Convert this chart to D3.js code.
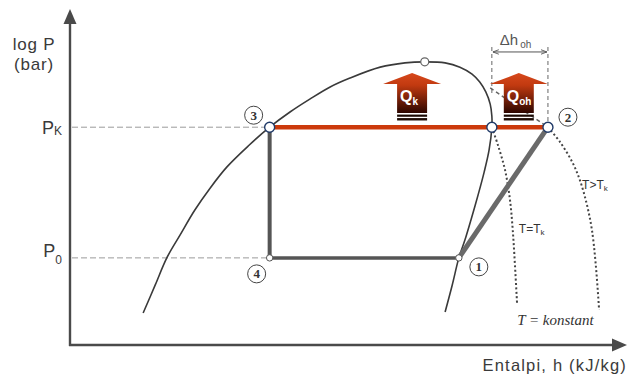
<!DOCTYPE html>
<html>
<head>
<meta charset="utf-8">
<script src="https://cdn.jsdelivr.net/npm/d3@7"></script>
<style>
  body { margin: 0; background: #fff; }
  svg { display: block; }
</style>
</head>
<body>
<script>
// log P – h diagram of a refrigeration cycle (abstract units: enthalpy 0–100, log P 0–100)

// Saturation dome, liquid side → critical point → vapour side  [h, logP]
const saturationDome = [
  [13.3, 9.7], [15.5, 18.2], [17.6, 26.4], [20.0, 33.3], [22.7, 40.9], [25.5, 47.6],
  [28.5, 53.9], [32.4, 60.3], [36.3, 66.0], [40.0, 70.6], [43.6, 74.5], [47.3, 78.2],
  [50.9, 80.9], [56.4, 84.2], [60.9, 85.5], [64.5, 85.8], [68.2, 85.5], [70.9, 84.2],
  [73.1, 82.1], [74.5, 79.7], [75.6, 76.7], [76.4, 73.0], [76.7, 69.4], [76.7, 66.0],
  [76.2, 59.1], [75.3, 52.4], [74.2, 45.5], [72.9, 37.9], [71.8, 31.8], [70.7, 26.4],
  [69.5, 18.2], [68.2, 10.0]
];

// Pressure levels
const pressureTicks = [
  { name: "P", sub: "K", p: 66.0 },
  { name: "P", sub: "0", p: 26.4 }
];

// Cycle state points
const cycleStates = [
  { id: "1", h: 70.7, p: 26.4 },
  { id: "2", h: 86.9, p: 66.0 },
  { id: "3", h: 36.3, p: 66.0 },
  { id: "4", h: 36.3, p: 26.4 }
];
const saturatedVapourK = { h: 76.7, p: 66.0 };
const criticalPoint = { h: 64.5, p: 85.8 };

// Isotherms
const isothermTk = [
  [76.7, 66.0], [77.8, 60.6], [79.1, 53.0], [80.0, 43.9], [80.5, 34.8], [80.9, 24.2], [81.3, 12.1]
];
const isothermAboveTkUpper = [[76.4, 77.9], [86.9, 66.0]];
const isothermAboveTk = [
  [86.9, 66.0], [89.1, 61.5], [91.3, 55.5], [92.7, 50.0], [94.0, 42.4], [94.9, 34.8], [95.6, 24.2], [96.2, 10.6]
];

// Heat flows
const heatArrows = [
  { q: "Q", sub: "k", h: 62.2, tip: 82.4 },
  { q: "Q", sub: "oh", h: 81.6, tip: 82.4 }
];

// Superheat span Δh_oh
const superheatSpan = { from: 76.7, to: 86.9, top: 90.3, level: 88.8, leftEnd: 76.0 };

const W = 627, H = 376;
const x = d3.scaleLinear().domain([0, 100]).range([70, 620]);
const y = d3.scaleLinear().domain([0, 100]).range([345, 15]);
const line = d3.line().x(d => x(d[0])).y(d => y(d[1]));
const smooth = d3.line().x(d => x(d[0])).y(d => y(d[1])).curve(d3.curveCatmullRom.alpha(0.5));

const svg = d3.select("body").append("svg")
  .attr("width", W).attr("height", H)
  .style("font-family", "'Liberation Sans', Arial, sans-serif");

const defs = svg.append("defs");
const grad = defs.append("linearGradient").attr("id", "heatGrad")
  .attr("x1", 0).attr("y1", 0).attr("x2", 0).attr("y2", 1);
grad.append("stop").attr("offset", "0%").attr("stop-color", "#d7481c");
grad.append("stop").attr("offset", "30%").attr("stop-color", "#c23a10");
grad.append("stop").attr("offset", "100%").attr("stop-color", "#2c0600");

defs.append("marker").attr("id", "dimArrow").attr("viewBox", "0 0 8 8")
  .attr("refX", 8).attr("refY", 4).attr("markerWidth", 6).attr("markerHeight", 6)
  .attr("orient", "auto-start-reverse")
  .append("path").attr("d", "M0,1 L8,4 L0,7").attr("fill", "none").attr("stroke", "#555").attr("stroke-width", 1.2);

const ink = "#3a3a3a";

// Axes with arrowheads
const x0 = x(0), yBase = y(0);
svg.append("line").attr("x1", x0).attr("y1", yBase + 1).attr("x2", x0).attr("y2", 22)
  .attr("stroke", "#4a4a4a").attr("stroke-width", 2.4);
svg.append("path").attr("d", `M${x0},9 L${x0 - 6.5},24 L${x0 + 6.5},24 Z`).attr("fill", "#4a4a4a");
svg.append("line").attr("x1", x0 - 1).attr("y1", yBase).attr("x2", 615).attr("y2", yBase)
  .attr("stroke", "#4a4a4a").attr("stroke-width", 2.4);
svg.append("path").attr("d", `M627,${yBase} L612,${yBase - 6.5} L612,${yBase + 6.5} Z`).attr("fill", "#4a4a4a");

// Axis titles
svg.append("text").attr("x", 34).attr("y", 50).attr("text-anchor", "middle")
  .attr("font-size", 17).attr("letter-spacing", 0.8).attr("fill", ink).text("log P");
svg.append("text").attr("x", 34).attr("y", 70).attr("text-anchor", "middle")
  .attr("font-size", 17).attr("letter-spacing", 0.8).attr("fill", ink).text("(bar)");
svg.append("text").attr("x", 627).attr("y", 371).attr("text-anchor", "end")
  .attr("font-size", 16.5).attr("letter-spacing", 1.2).attr("fill", ink).text("Entalpi, h (kJ/kg)");

// Pressure tick labels
const subDrop = { K: 1, "0": 7 };
const gy = svg.append("g").attr("transform", `translate(${x0},0)`)
  .call(d3.axisLeft(y).tickValues(pressureTicks.map(d => d.p)).tickSize(0).tickPadding(8).tickFormat(() => ""));
gy.select(".domain").remove();
gy.selectAll(".tick text").each(function (v) {
  const t = pressureTicks.find(d => d.p === v);
  const el = d3.select(this).attr("dy", null).attr("fill", ink)
    .attr("font-family", "'Liberation Sans', Arial, sans-serif")
    .attr("y", t.sub === "0" ? -1 : 6);
  el.append("tspan").attr("font-size", 18).text(t.name);
  el.append("tspan").attr("font-size", 12).attr("dy", subDrop[t.sub]).text(t.sub);
});

// Dashed pressure guides
pressureTicks.forEach(t => {
  const st = cycleStates.filter(s => s.p === t.p).reduce((a, b) => (a.h < b.h ? a : b));
  svg.append("line").attr("x1", x0 + 2).attr("x2", x(st.h)).attr("y1", y(t.p)).attr("y2", y(t.p))
    .attr("stroke", "#9a9a9a").attr("stroke-width", 1).attr("stroke-dasharray", "6,3");
});

// Saturation dome
svg.append("path").attr("d", smooth(saturationDome)).attr("fill", "none")
  .attr("stroke", "#3a3a3a").attr("stroke-width", 1.6);

// Isotherms
svg.append("path").attr("d", smooth(isothermTk)).attr("fill", "none")
  .attr("stroke", "#444").attr("stroke-width", 2).attr("stroke-dasharray", "2,2.4");
svg.append("path").attr("d", smooth(isothermAboveTk)).attr("fill", "none")
  .attr("stroke", "#444").attr("stroke-width", 2).attr("stroke-dasharray", "2,2.4");
svg.append("path").attr("d", line(isothermAboveTkUpper)).attr("fill", "none")
  .attr("stroke", "#666").attr("stroke-width", 1.5).attr("stroke-dasharray", "4,3");

// Superheat dimension
svg.append("line").attr("x1", x(superheatSpan.from)).attr("x2", x(superheatSpan.from))
  .attr("y1", y(superheatSpan.top)).attr("y2", y(superheatSpan.leftEnd))
  .attr("stroke", "#666").attr("stroke-width", 1).attr("stroke-dasharray", "4,3");
svg.append("line").attr("x1", x(superheatSpan.to)).attr("x2", x(superheatSpan.to))
  .attr("y1", y(superheatSpan.top)).attr("y2", y(cycleStates[1].p))
  .attr("stroke", "#666").attr("stroke-width", 1).attr("stroke-dasharray", "4,3");
svg.append("line").attr("x1", x(superheatSpan.from) + 1).attr("x2", x(superheatSpan.to) - 1)
  .attr("y1", y(superheatSpan.level)).attr("y2", y(superheatSpan.level))
  .attr("stroke", "#555").attr("stroke-width", 1)
  .attr("marker-start", "url(#dimArrow)").attr("marker-end", "url(#dimArrow)");
const dh = svg.append("text").attr("x", x(superheatSpan.from) + 8).attr("y", 45)
  .attr("font-size", 15).attr("fill", "#555");
dh.append("tspan").text("Δh");
dh.append("tspan").attr("font-size", 10).attr("dy", 3).attr("dx", 2).text("oh");

// Cycle
const s = Object.fromEntries(cycleStates.map(d => [d.id, d]));
svg.append("line").attr("x1", x(s["3"].h)).attr("y1", y(s["3"].p)).attr("x2", x(s["4"].h)).attr("y2", y(s["4"].p))
  .attr("stroke", "#555").attr("stroke-width", 4);
svg.append("line").attr("x1", x(s["4"].h)).attr("y1", y(s["4"].p)).attr("x2", x(s["1"].h)).attr("y2", y(s["1"].p))
  .attr("stroke", "#555").attr("stroke-width", 3.5);
svg.append("line").attr("x1", x(s["1"].h)).attr("y1", y(s["1"].p)).attr("x2", x(s["2"].h)).attr("y2", y(s["2"].p))
  .attr("stroke", "#6a6a6a").attr("stroke-width", 5);
svg.append("line").attr("x1", x(s["3"].h)).attr("y1", y(s["3"].p)).attr("x2", x(s["2"].h)).attr("y2", y(s["2"].p))
  .attr("stroke", "#cc3a0c").attr("stroke-width", 4.5);

// Point markers
[s["3"], saturatedVapourK, s["2"]].forEach(d => {
  svg.append("circle").attr("cx", x(d.h)).attr("cy", y(d.p)).attr("r", 5)
    .attr("fill", "#fff").attr("stroke", "#203a68").attr("stroke-width", 1.4);
});
[s["1"], s["4"]].forEach(d => {
  svg.append("circle").attr("cx", x(d.h)).attr("cy", y(d.p)).attr("r", 3.2)
    .attr("fill", "#fff").attr("stroke", "#555").attr("stroke-width", 1);
});
svg.append("circle").attr("cx", x(criticalPoint.h)).attr("cy", y(criticalPoint.p)).attr("r", 4)
  .attr("fill", "#fff").attr("stroke", "#666").attr("stroke-width", 1.2);

// Circled state numbers
const labelOffset = { "1": [20, 9], "2": [20, -10], "3": [-16, -12], "4": [-13, 16] };
cycleStates.forEach(d => {
  const [dx, dy] = labelOffset[d.id];
  const cx = x(d.h) + dx, cy = y(d.p) + dy;
  svg.append("circle").attr("cx", cx).attr("cy", cy).attr("r", 9)
    .attr("fill", "none").attr("stroke", "#444").attr("stroke-width", 1);
  svg.append("text").attr("x", cx).attr("y", cy + 4.5).attr("text-anchor", "middle")
    .attr("font-family", "'Liberation Serif', 'Times New Roman', serif")
    .attr("font-size", 13).attr("font-weight", "bold").attr("fill", "#333").text(d.id);
});

// Heat arrows
heatArrows.forEach(a => {
  const cx = x(a.h), ty = y(a.tip);
  const hw = 29, hh = 11, sw = 15, len = 40;
  const g = svg.append("g");
  g.append("path")
    .attr("d", `M${cx},${ty} L${cx + hw},${ty + hh} L${cx + sw},${ty + hh} L${cx + sw},${ty + len}
      L${cx - sw},${ty + len} L${cx - sw},${ty + hh} L${cx - hw},${ty + hh} Z`)
    .attr("fill", "url(#heatGrad)");
  g.append("rect").attr("x", cx - sw).attr("y", ty + len + 1.5).attr("width", 2 * sw).attr("height", 2.2).attr("fill", "#1c0a04");
  g.append("rect").attr("x", cx - sw).attr("y", ty + len + 5).attr("width", 2 * sw).attr("height", 2.4).attr("fill", "#1c0a04");
  const t = g.append("text").attr("x", cx - 12).attr("y", ty + 29)
    .attr("font-size", 16).attr("font-weight", "bold").attr("fill", "#fff");
  t.append("tspan").text(a.q);
  t.append("tspan").attr("font-size", 10).attr("dy", 3).text(a.sub);
});

// Isotherm labels
const tk = svg.append("text").attr("x", x(81.6)).attr("y", 233).attr("font-size", 12).attr("fill", "#333");
tk.append("tspan").text("T=T");
tk.append("tspan").attr("font-size", 8).attr("dy", 2).text("k");
const tg = svg.append("text").attr("x", x(93.1)).attr("y", 189).attr("font-size", 12).attr("fill", "#333");
tg.append("tspan").text("T>T");
tg.append("tspan").attr("font-size", 8).attr("dy", 2).text("k");
svg.append("text").attr("x", x(81.3)).attr("y", 325)
  .attr("font-family", "'Liberation Serif', 'Times New Roman', serif").attr("font-style", "italic")
  .attr("font-size", 15).attr("fill", "#333").text("T = konstant");
</script>
</body>
</html>
